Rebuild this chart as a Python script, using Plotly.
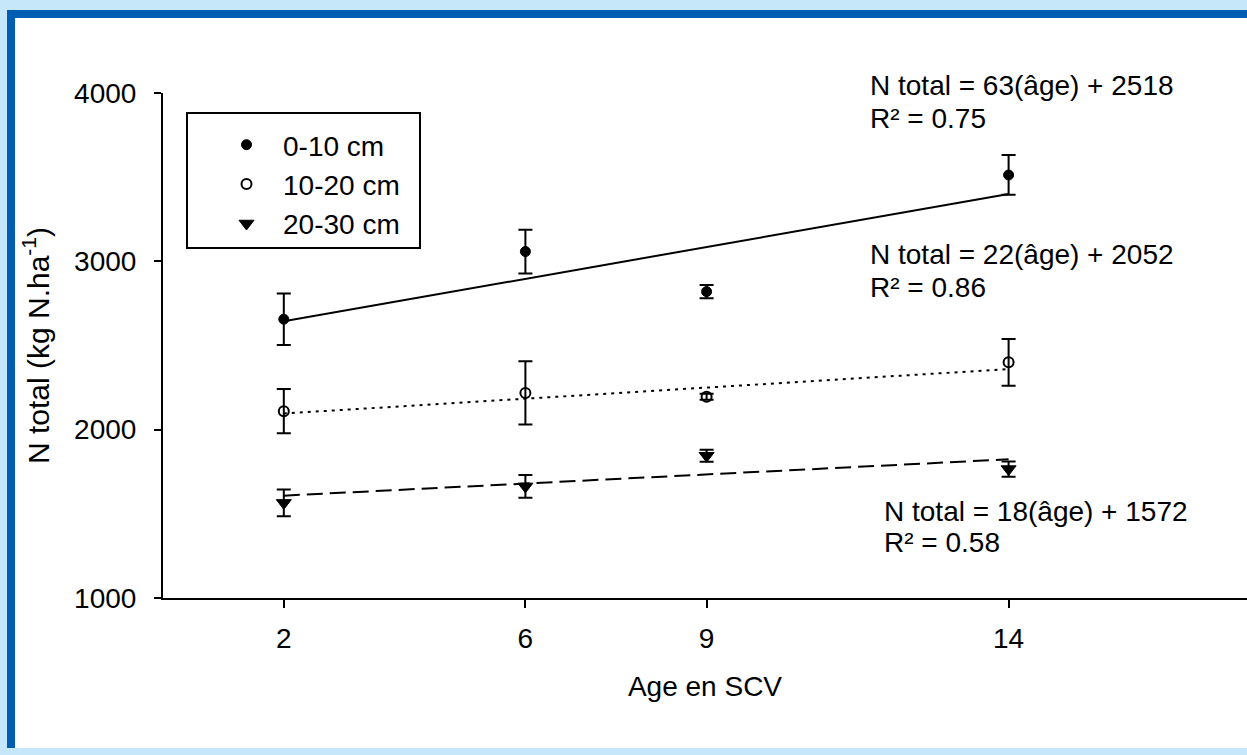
import plotly.graph_objects as go

# ---- data ----
ages = [2, 6, 9, 14]
series_names = ["0-10 cm", "10-20 cm", "20-30 cm"]
n_0_10 = [2656, 3058, 2820, 3513]
err_0_10 = [153, 130, 40, 118]
n_10_20 = [2110, 2218, 2196, 2400]
err_10_20 = [131, 188, 18, 139]
n_20_30 = [1565, 1663, 1845, 1766]
err_20_30 = [80, 67, 35, 45]
slopes = [63, 22, 18]
intercepts = [2518, 2052, 1572]
r2 = [0.75, 0.86, 0.58]
x_ticks = [2, 6, 9, 14]
y_ticks = [1000, 2000, 3000, 4000]

FONT = "Arial, Liberation Sans, sans-serif"
FS = 28

# pixel geometry helpers (page 1247x755)
W, H = 1247, 755
ML, MR, MT, MB = 163, 0, 93, 157
PW, PH = W - ML - MR, H - MT - MB


def px_x(p):
    return (p - ML) / PW


def px_y(p):
    return (H - MB - p) / PH


fig = go.Figure()

values = [n_0_10, n_10_20, n_20_30]
errors = [err_0_10, err_10_20, err_20_30]
markers = [
    dict(symbol="circle", size=10, color="black", line=dict(color="black", width=1)),
    dict(symbol="circle-open", size=10, color="black", line=dict(color="black", width=2)),
    dict(symbol="triangle-down", size=13, color="black", line=dict(color="black", width=1)),
]
dashes = ["solid", "3px,5px", "16px,7px"]

# regression lines
x_fit = [min(ages), max(ages)]
for i in range(3):
    fig.add_trace(go.Scatter(
        x=x_fit, y=[slopes[i] * a + intercepts[i] for a in x_fit],
        mode="lines", line=dict(color="black", width=2, dash=dashes[i]),
        showlegend=False, hoverinfo="skip"))

for i in range(3):
    fig.add_trace(go.Scatter(
        x=ages, y=values[i], mode="markers", name=series_names[i],
        marker=markers[i],
        error_y=dict(type="data", array=errors[i], visible=True,
                     color="black", thickness=2, width=7)))

# equation annotations (two lines each)
eq_pos = [(868, 85, 118), (868, 255, 287), (882, 511, 542)]
for i in range(3):
    x0, y1, y2 = eq_pos[i]
    fig.add_annotation(
        xref="paper", yref="paper", x=px_x(x0), y=px_y(y1),
        xanchor="left", yanchor="middle", align="left", showarrow=False,
        text=f"N total = {slopes[i]}(âge) + {intercepts[i]}",
        font=dict(family=FONT, size=FS, color="black"))
    fig.add_annotation(
        xref="paper", yref="paper", x=px_x(x0), y=px_y(y2),
        xanchor="left", yanchor="middle", align="left", showarrow=False,
        text=f"R² = {r2[i]:.2f}",
        font=dict(family=FONT, size=FS, color="black"))

shapes = [
    # outer dark blue frame
    dict(type="rect", xref="paper", yref="paper", layer="below",
         x0=px_x(7), x1=px_x(W + 5), y0=px_y(748), y1=px_y(10),
         fillcolor="#005db2", line=dict(width=0)),
    # white interior
    dict(type="rect", xref="paper", yref="paper", layer="below",
         x0=px_x(15), x1=px_x(W + 5), y0=px_y(748), y1=px_y(18),
         fillcolor="white", line=dict(width=0)),
    # legend box
    dict(type="rect", xref="paper", yref="paper",
         x0=px_x(187), x1=px_x(420), y0=px_y(248), y1=px_y(113),
         line=dict(color="black", width=2), fillcolor="rgba(0,0,0,0)"),
]

fig.update_layout(
    width=W, height=H,
    margin=dict(l=ML, r=MR, t=MT, b=MB, autoexpand=False),
    paper_bgcolor="#c6e6fa", plot_bgcolor="rgba(0,0,0,0)",
    font=dict(family=FONT, size=FS, color="black"),
    shapes=shapes,
    showlegend=True,
    legend=dict(x=px_x(210), y=px_y(120), xanchor="left", yanchor="top",
                bgcolor="rgba(0,0,0,0)", borderwidth=0, tracegroupgap=0,
                itemwidth=63,
                font=dict(family=FONT, size=FS, color="black")),
    xaxis=dict(range=[0, PW / 60.4], tickmode="array", tickvals=x_ticks,
               ticktext=[str(v) for v in x_ticks],
               showgrid=False, zeroline=False, showline=True, linecolor="black",
               linewidth=2, ticks="outside", ticklen=8, tickwidth=2, tickcolor="black",
               ticklabelstandoff=6,
               tickfont=dict(family=FONT, size=FS, color="black"),
               title=dict(text="Age en SCV", standoff=24,
                          font=dict(family=FONT, size=FS, color="black"))),
    yaxis=dict(range=[1000, 4000], tickmode="array", tickvals=y_ticks,
               showgrid=False, zeroline=False, showline=True, linecolor="black",
               linewidth=2, ticks="outside", ticklen=7, tickwidth=2, tickcolor="black",
               ticklabelstandoff=12,
               tickfont=dict(family=FONT, size=FS, color="black"),
               title=dict(text="N total (kg N.ha<sup>-1</sup>)", standoff=16,
                          font=dict(family=FONT, size=30, color="black"))),
)

fig.write_html("out.html")
